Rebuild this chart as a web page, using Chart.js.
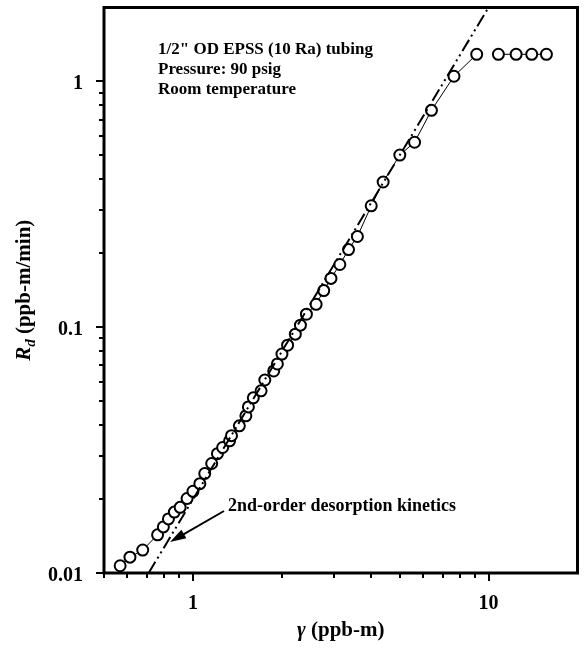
<!DOCTYPE html>
<html>
<head>
<meta charset="utf-8">
<script src="https://cdn.jsdelivr.net/npm/chart.js@4/dist/chart.umd.min.js"></script>
<style>
  body { margin: 0; background: #fff; }
</style>
</head>
<body>
<canvas id="rdChart" width="585" height="648"></canvas>
<script>
// measured points, gamma (ppb-m) vs Rd (ppb-m/min)
var gamma = [0.567, 0.612, 0.676, 0.759, 0.794, 0.826, 0.865, 0.905, 0.955, 1.0,
             1.055, 1.096, 1.157, 1.21, 1.26, 1.33, 1.35, 1.435, 1.51, 1.54,
             1.60, 1.70, 1.75, 1.876, 1.93, 2.0, 2.09, 2.22, 2.31, 2.42,
             2.61, 2.77, 2.93, 3.14, 3.36, 3.60, 4.01, 4.40, 5.01, 5.62,
             6.41, 7.64, 9.12];
var rd = [0.0107, 0.0116, 0.0124, 0.0143, 0.0154, 0.0166, 0.0177, 0.0185, 0.0201, 0.0215,
          0.0231, 0.0254, 0.0279, 0.0306, 0.0324, 0.0345, 0.0362, 0.0397, 0.0436, 0.0474,
          0.0516, 0.0551, 0.061, 0.0664, 0.0709, 0.0778, 0.0845, 0.0937, 0.102, 0.113,
          0.124, 0.141, 0.158, 0.180, 0.207, 0.234, 0.312, 0.390, 0.502, 0.566,
          0.763, 1.05, 1.29];

// flat part at the top right
var gammaFlat = [10.8, 12.4, 14.0, 15.7];
var rdFlat = [1.29, 1.29, 1.29, 1.29];

// 2nd-order desorption kinetics line (end points)
var fitGamma = [0.708, 10.0];
var fitRd = [0.01, 2.0];

// axes
var xTicks = [0.5, 0.6, 0.7, 0.8, 0.9, 1, 2, 3, 4, 5, 6, 7, 8, 9, 10, 20];
var xLabels = [1, 10];
var yTicks = [0.01, 0.02, 0.03, 0.04, 0.05, 0.06, 0.07, 0.08, 0.09,
              0.1, 0.2, 0.3, 0.4, 0.5, 0.6, 0.7, 0.8, 0.9, 1, 2];
var yLabels = [0.01, 0.1, 1];

var notes = ['1/2" OD EPSS (10 Ra) tubing', 'Pressure: 90 psig', 'Room temperature'];
var arrowText = '2nd-order desorption kinetics';

var serif = '"Liberation Serif", "Times New Roman", serif';

function toPoints(xs, ys) {
    return xs.map(function(v, i) { return { x: v, y: ys[i] }; });
}

var framePlugin = {
    id: 'framePlugin',
    afterDraw: function(chart) {
        var ctx = chart.ctx;
        var a = chart.chartArea;
        var xs = chart.scales.x;
        var ys = chart.scales.y;
        ctx.save();
        ctx.strokeStyle = '#000';
        ctx.fillStyle = '#000';

        // box
        ctx.lineWidth = 3;
        ctx.strokeRect(a.left, a.top, a.right - a.left, a.bottom - a.top);

        // tick marks
        ctx.lineWidth = 2;
        xTicks.forEach(function(v) {
            var px = Math.round(xs.getPixelForValue(v));
            var len = xLabels.indexOf(v) >= 0 ? 8 : 5;
            if (px >= a.right - 1) return;
            ctx.beginPath();
            ctx.moveTo(px, a.bottom);
            ctx.lineTo(px, a.bottom + len);
            ctx.stroke();
        });
        yTicks.forEach(function(v) {
            var py = Math.round(ys.getPixelForValue(v));
            var len = yLabels.indexOf(v) >= 0 ? 8 : 5;
            if (py <= a.top + 1) return;
            ctx.beginPath();
            ctx.moveTo(a.left, py);
            ctx.lineTo(a.left - len, py);
            ctx.stroke();
        });

        // tick labels
        ctx.font = 'bold 20px ' + serif;
        ctx.textBaseline = 'alphabetic';
        ctx.textAlign = 'center';
        xLabels.forEach(function(v) {
            ctx.fillText(String(v), xs.getPixelForValue(v), 609);
        });
        ctx.textAlign = 'right';
        yLabels.forEach(function(v) {
            ctx.fillText(String(v), 83, ys.getPixelForValue(v) + 8);
        });

        // x title: gamma (ppb-m)
        ctx.textAlign = 'left';
        var f1 = 'italic bold 21px ' + serif;
        var f2 = 'bold 21px ' + serif;
        ctx.font = f1;
        var w1 = ctx.measureText('\u03b3').width;
        ctx.font = f2;
        var w2 = ctx.measureText(' (ppb-m)').width;
        var cx = (a.left + a.right) / 2;
        var sx = cx - (w1 + w2) / 2;
        ctx.font = f1;
        ctx.fillText('\u03b3', sx, 636);
        ctx.font = f2;
        ctx.fillText(' (ppb-m)', sx + w1, 636);

        // y title: Rd (ppb-m/min)
        ctx.save();
        ctx.translate(30, (a.top + a.bottom) / 2);
        ctx.rotate(-Math.PI / 2);
        var fR = 'italic bold 21px ' + serif;
        var fd = 'italic bold 15px ' + serif;
        ctx.font = fR;
        var wR = ctx.measureText('R').width;
        ctx.font = fd;
        var wd = ctx.measureText('d').width;
        ctx.font = f2;
        var wu = ctx.measureText(' (ppb-m/min)').width;
        var st = -(wR + wd + wu) / 2;
        ctx.font = fR;
        ctx.fillText('R', st, 0);
        ctx.font = fd;
        ctx.fillText('d', st + wR, 5);
        ctx.font = f2;
        ctx.fillText(' (ppb-m/min)', st + wR + wd, 0);
        ctx.restore();

        // notes in the top left corner
        ctx.font = 'bold 17px ' + serif;
        notes.forEach(function(t, i) {
            ctx.fillText(t, 158, 54 + i * 20);
        });

        // arrow label
        ctx.font = 'bold 18px ' + serif;
        ctx.fillText(arrowText, 228, 511);

        // arrow
        var x0 = 224, y0 = 511, x1 = 170, y1 = 542;
        var ang = Math.atan2(y1 - y0, x1 - x0);
        ctx.lineWidth = 2;
        ctx.beginPath();
        ctx.moveTo(x0, y0);
        ctx.lineTo(x1 - 10 * Math.cos(ang), y1 - 10 * Math.sin(ang));
        ctx.stroke();
        ctx.beginPath();
        ctx.moveTo(x1, y1);
        ctx.lineTo(x1 - 16 * Math.cos(ang) + 5 * Math.sin(ang), y1 - 16 * Math.sin(ang) - 5 * Math.cos(ang));
        ctx.lineTo(x1 - 16 * Math.cos(ang) - 5 * Math.sin(ang), y1 - 16 * Math.sin(ang) + 5 * Math.cos(ang));
        ctx.closePath();
        ctx.fill();

        ctx.restore();
    }
};

var ctx = document.getElementById('rdChart').getContext('2d');

var myChart = new Chart(ctx, {
    type: 'scatter',
    data: {
        datasets: [{
            label: '2nd-order fit',
            data: toPoints(fitGamma, fitRd),
            showLine: true,
            borderColor: '#000',
            borderWidth: 2,
            borderDash: [13, 4, 2, 4, 2, 4],
            pointRadius: 0
        }, {
            label: 'measured',
            data: toPoints(gamma, rd),
            showLine: true,
            borderColor: '#000',
            borderWidth: 1,
            pointRadius: 5.5,
            pointBorderWidth: 2,
            pointBorderColor: '#000',
            pointBackgroundColor: '#fff'
        }, {
            label: 'measured (flat)',
            data: toPoints(gammaFlat, rdFlat),
            showLine: true,
            borderColor: '#000',
            borderWidth: 1,
            pointRadius: 5.5,
            pointBorderWidth: 2,
            pointBorderColor: '#000',
            pointBackgroundColor: '#fff'
        }]
    },
    options: {
        responsive: false,
        animation: false,
        layout: { padding: { top: 5, right: 2, left: 0, bottom: 0 } },
        plugins: {
            legend: { display: false },
            tooltip: { enabled: false }
        },
        scales: {
            x: {
                type: 'logarithmic',
                min: 0.5,
                max: 20,
                afterFit: function(s) { s.height = 75; s.paddingLeft = 0; s.paddingRight = 0; },
                border: { display: false },
                grid: { display: false },
                ticks: { display: false }
            },
            y: {
                type: 'logarithmic',
                min: 0.01,
                max: 2,
                afterFit: function(s) { s.width = 104; s.paddingTop = 0; s.paddingBottom = 0; },
                border: { display: false },
                grid: { display: false },
                ticks: { display: false }
            }
        }
    },
    plugins: [framePlugin]
});
</script>
</body>
</html>
